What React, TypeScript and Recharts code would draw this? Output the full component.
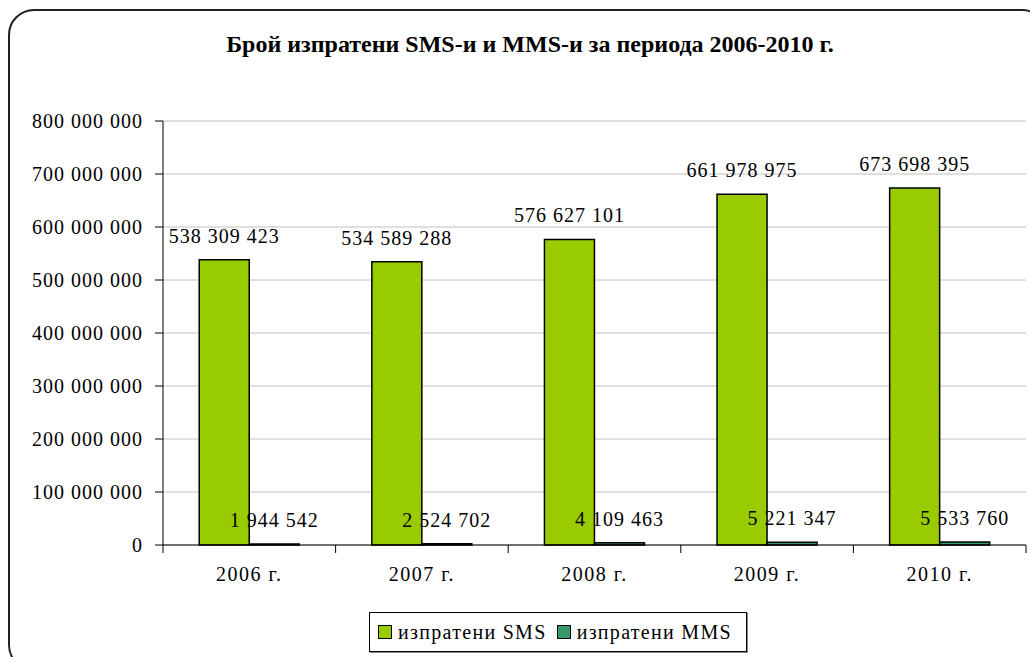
import React from "react"
import { BarChart, Bar, XAxis, YAxis, CartesianGrid, LabelList, Legend } from "recharts"

// values
const years = ["2006 г.", "2007 г.", "2008 г.", "2009 г.", "2010 г."]
const smsSent = [538309423, 534589288, 576627101, 661978975, 673698395]
const mmsSent = [1944542, 2524702, 4109463, 5221347, 5533760]
const yTicks = [0, 100000000, 200000000, 300000000, 400000000, 500000000, 600000000, 700000000, 800000000]

const SMS_COLOR = "#99CC00"
const MMS_COLOR = "#339966"
const FONT = "'Liberation Serif', 'Times New Roman', serif"

const data = years.map((year, i) => ({ year, sms: smsSent[i], mms: mmsSent[i] }))

const fmt = (v: number) => String(v).replace(/\B(?=(\d{3})+(?!\d))/g, " ")

// category label centred, tick mark on the left boundary of each band (and the right end of the last)
function CategoryTick(props: any) {
  const { x, y, payload, index, visibleTicksCount } = props
  const half = payload?.offset ?? 0
  const last = index === (visibleTicksCount ?? years.length) - 1
  return (
    <g>
      <line x1={x - half} x2={x - half} y1={y - 8} y2={y} stroke="#000" />
      {last && <line x1={x + half} x2={x + half} y1={y - 8} y2={y} stroke="#000" />}
      <text x={x} y={y + 28} textAnchor="middle" fontFamily={FONT} fontSize={20} letterSpacing={1.5} fill="#000">
        {payload.value}
      </text>
    </g>
  )
}

// value above the bar, on one line
function ValueLabel(props: any) {
  const { x, y, width, value } = props
  return (
    <text x={x + width / 2} y={y - 17} textAnchor="middle" fontFamily={FONT} fontSize={20} letterSpacing={1} fill="#000">
      {fmt(value)}
    </text>
  )
}

function LegendBox() {
  const items = [
    { label: "изпратени SMS", color: SMS_COLOR },
    { label: "изпратени MMS", color: MMS_COLOR },
  ]
  return (
    <div
      style={{
        display: "flex",
        alignItems: "center",
        border: "1px solid #000",
        boxShadow: "1px 1px 0 #888",
        padding: "0 8px",
        width: 378,
        boxSizing: "border-box",
        height: 40,
        fontFamily: FONT,
        fontSize: 20,
        letterSpacing: 1.3,
        background: "#fff",
      }}
    >
      {items.map((it, i) => (
        <span key={it.label} style={{ display: "flex", alignItems: "center", marginLeft: i ? 10 : 0 }}>
          <span style={{ width: 12, height: 12, background: it.color, border: "1.5px solid #000", marginRight: 6 }} />
          {it.label}
        </span>
      ))}
    </div>
  )
}

export default function App() {
  return (
    <div style={{ position: "absolute", left: 0, top: 0, width: 1030, height: 657, overflow: "hidden", background: "#fff" }}>
      <div
        style={{
          position: "absolute",
          left: 8,
          top: 9,
          width: 1040,
          height: 662,
          border: "2px solid #222",
          borderRadius: 26,
          boxSizing: "border-box",
        }}
      />
      <div
        style={{
          position: "absolute",
          left: 0,
          width: 1060,
          top: 31,
          textAlign: "center",
          fontFamily: FONT,
          fontWeight: "bold",
          fontSize: 24,
          color: "#000",
        }}
      >
        Брой изпратени SMS-и и MMS-и за периода 2006-2010 г.
      </div>
      <div style={{ position: "absolute", left: 0, top: 0 }}>
        <BarChart
          width={1030}
          height={657}
          data={data}
          margin={{ top: 121, right: 4, bottom: 80, left: 0 }}
          barCategoryGap="21%"
          barGap={0}
        >
          <CartesianGrid vertical={false} stroke="#c0c0c0" />
          <XAxis
            dataKey="year"
            axisLine={{ stroke: "#000" }}
            tickLine={false}
            tick={<CategoryTick />}
            height={32}
            interval={0}
          />
          <XAxis xAxisId="top" dataKey="year" orientation="top" height={0} tick={false} tickLine={false} axisLine={{ stroke: "#808080" }} />
          <YAxis
            domain={[0, 800000000]}
            ticks={yTicks}
            width={163}
            tickFormatter={fmt}
            axisLine={{ stroke: "#000" }}
            tickLine={{ stroke: "#000" }}
            tickSize={8}
            tickMargin={12}
            tick={{ fontFamily: FONT, fontSize: 20, fill: "#000", letterSpacing: 1 }}
          />
          <YAxis yAxisId="right" orientation="right" domain={[0, 800000000]} width={0} tick={false} tickLine={false} axisLine={{ stroke: "#808080" }} />
          <Legend
            layout="horizontal"
            verticalAlign="middle"
            align="center"
            wrapperStyle={{ position: "absolute", left: 369, top: 612, width: "auto" }}
            content={() => <LegendBox />}
          />
          <Bar dataKey="sms" name="изпратени SMS" fill={SMS_COLOR} stroke="#000" strokeWidth={1.5} isAnimationActive={false}>
            <LabelList dataKey="sms" content={<ValueLabel />} />
          </Bar>
          <Bar dataKey="mms" name="изпратени MMS" fill={MMS_COLOR} stroke="#000" strokeWidth={1.5} isAnimationActive={false}>
            <LabelList dataKey="mms" content={<ValueLabel />} />
          </Bar>
        </BarChart>
      </div>
    </div>
  )
}
